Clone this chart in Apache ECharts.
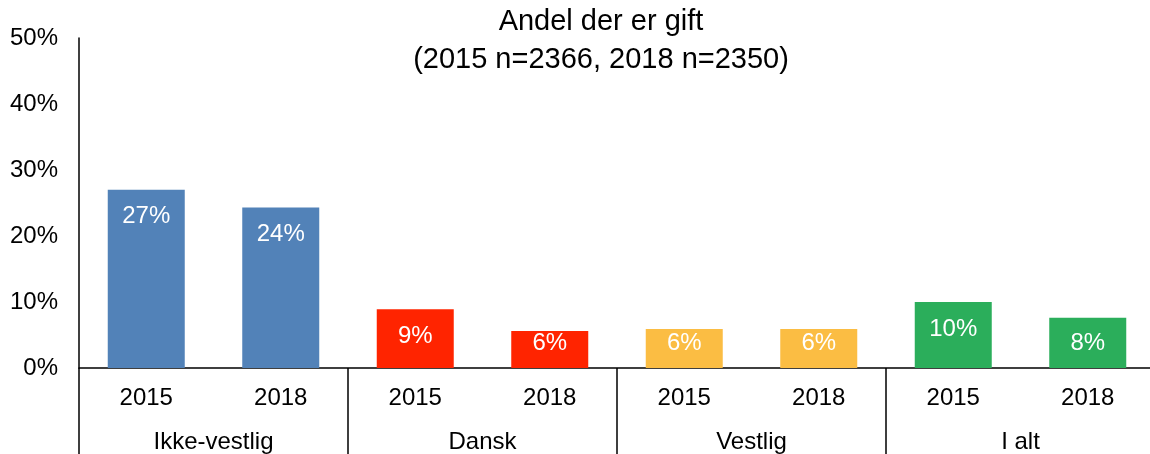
<!DOCTYPE html>
<html>
<head>
<meta charset="utf-8">
<script src="https://cdn.jsdelivr.net/npm/echarts@6/dist/echarts.min.js"></script>
<style>
  html, body { margin: 0; padding: 0; background: #fff; overflow: hidden; }
  /* the plot runs a few px past the right edge of the window, as in the original */
  #main { width: 1160px; height: 454px; }
</style>
</head>
<body>
<div id="main"></div>
<script>
// data
const years = ['2015', '2018', '2015', '2018', '2015', '2018', '2015', '2018']
const groups = ['Ikke-vestlig', 'Dansk', 'Vestlig', 'I alt']
const values = [27.0, 24.3, 8.9, 5.6, 5.9, 5.9, 10.0, 7.6]
const groupColors = ['#5282b8', '#ff2400', '#fbbd43', '#2bae5b']

const FONT = 'Liberation Sans, Arial, sans-serif'
const pxPerUnit = 330 / 50

var myChart = echarts.init(document.getElementById('main'))

// labels sit near the bar top, but get pushed up for the short bars
let barData = values.map(function (v, i) {
  let dist = 15 - Math.max(0, (7.76 - v) * pxPerUnit)
  return {
    value: v,
    itemStyle: { color: groupColors[Math.floor(i / 2)] },
    label: { distance: dist },
  }
})

let option = {
  animation: false,
  textStyle: { fontFamily: FONT },
  title: {
    text: 'Andel der er gift\n(2015 n=2366, 2018 n=2350)',
    left: 601,
    top: 3,
    textAlign: 'center',
    padding: 0,
    textStyle: {
      fontFamily: FONT,
      fontSize: 29,
      fontWeight: 'normal',
      color: '#000',
      lineHeight: 38,
    },
  },
  grid: {
    left: 79,
    top: 38,
    width: 1076,
    height: 330,
    containLabel: false,
  },
  xAxis: [
    {
      type: 'category',
      data: years,
      position: 'bottom',
      axisLine: { show: true, lineStyle: { color: '#000', width: 1.5 } },
      axisTick: { show: false },
      axisLabel: { fontSize: 24, color: '#000', margin: 18, fontFamily: FONT, interval: 0 },
    },
    {
      type: 'category',
      data: groups,
      position: 'bottom',
      axisLine: { show: false },
      axisTick: { show: true, length: 90, lineStyle: { color: '#000', width: 1.5 } },
      axisLabel: { fontSize: 24, color: '#000', margin: 62, fontFamily: FONT, interval: 0 },
    },
  ],
  yAxis: {
    type: 'value',
    min: 0,
    max: 50,
    interval: 10,
    axisLine: { show: true, lineStyle: { color: '#000', width: 1.5 } },
    axisTick: { show: false },
    splitLine: { show: false },
    axisLabel: {
      formatter: '{value}%',
      fontSize: 24,
      color: '#000',
      margin: 21,
      fontFamily: FONT,
    },
  },
  series: [
    {
      type: 'bar',
      xAxisIndex: 0,
      barWidth: 77,
      data: barData,
      label: {
        show: true,
        position: 'insideTop',
        color: '#fff',
        fontSize: 24,
        fontFamily: FONT,
        formatter: function (p) {
          return Math.round(p.value) + '%'
        },
      },
    },
  ],
}

myChart.setOption(option)
</script>
</body>
</html>
